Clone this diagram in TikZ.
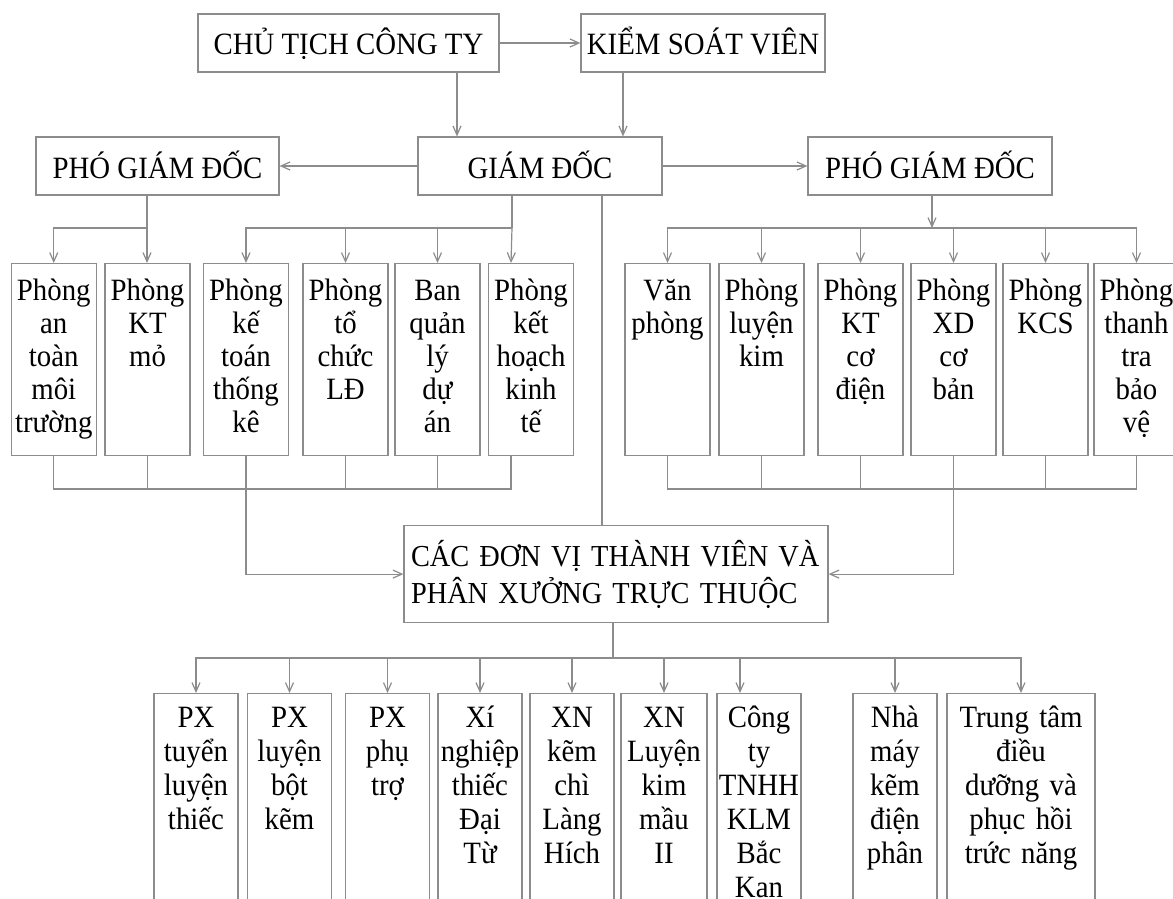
\documentclass[tikz,border=0pt]{standalone}
\usepackage{fontspec}
\setmainfont{Liberation Serif}[FakeStretch=0.93]
\usepackage{tikz}
\usetikzlibrary{arrows.meta}
\definecolor{orgline}{RGB}{140, 140, 140}
\newcommand{\headfont}{\fontsize{31}{33}\selectfont}
\newcommand{\unitfont}{\fontsize{31}{33}\selectfont}
\newcommand{\shopfont}{\fontsize{31}{34}\selectfont}
\newcommand{\groupfont}{\fontsize{30.5}{37}\selectfont}
\begin{document}
\begin{tikzpicture}[x=1pt, y=-1pt,
        head/.style={draw=orgline, line width=1.2pt, inner xsep=0pt, inner ysep=0pt, text height=41pt, text depth=17pt, font=\headfont},
        unit/.style={draw=orgline, line width=1.2pt, anchor=north, text width=85pt, align=center, inner xsep=0pt, inner ysep=0pt, text height=37pt, text depth=155pt, font=\unitfont},
        shop/.style={draw=orgline, line width=1.2pt, anchor=north, text width=84pt, align=center, inner xsep=0pt, inner ysep=0pt, text height=34pt, text depth=230pt, font=\shopfont},
        line/.style={draw=orgline, line width=1.2pt},
        arrow/.style={line, -{Straight Barb[length=9pt, width=8pt]}}
      ]
        \path[use as bounding box, clip] (0,0) rectangle (1173,899);
        \fill[white] (0,0) rectangle (1173,899);

        \node[head, minimum width=301pt] (chair) at (348.5, 43) {CHỦ TỊCH CÔNG TY};
        \node[head, minimum width=244pt] (ksv)   at (703, 43)   {KIỂM SOÁT VIÊN};
        \node[head, minimum width=244pt] (gd)    at (540, 166)  {GIÁM ĐỐC};
        \node[head, minimum width=243pt] (pgdl)  at (157.5, 166) {PHÓ GIÁM ĐỐC};
        \node[head, minimum width=244pt] (pgdr)  at (930, 166)  {PHÓ GIÁM ĐỐC};

        \node[unit] (a1) at (53.75, 263) {Phòng\\an\\toàn\\môi\\trường};
        \node[unit] (a2) at (147.5, 263) {Phòng\\KT\\mỏ};
        \node[unit] (a3) at (246, 263)   {Phòng\\kế\\toán\\thống\\kê};
        \node[unit] (a4) at (345.5, 263) {Phòng\\tổ\\chức\\LĐ};
        \node[unit] (a5) at (437.5, 263) {Ban\\quản\\lý\\dự\\án};
        \node[unit] (a6) at (531, 263)   {Phòng\\kết\\hoạch\\kinh\\tế};

        \node[unit] (b1) at (667.5, 263)  {Văn\\phòng};
        \node[unit] (b2) at (761.5, 263)  {Phòng\\luyện\\kim};
        \node[unit] (b3) at (860.5, 263)  {Phòng\\KT\\cơ\\điện};
        \node[unit] (b4) at (953.5, 263)  {Phòng\\XD\\cơ\\bản};
        \node[unit] (b5) at (1045.5, 263) {Phòng\\KCS};
        \node[unit] (b6) at (1136.5, 263) {Phòng\\thanh\\tra\\bảo\\vệ};

        \node[draw=orgline, line width=1.2pt, anchor=north, text width=418pt, align=left, inner xsep=3pt, inner ysep=0pt, text height=41pt, text depth=56pt, font=\groupfont] (cac) at (616, 525)
          {\hspace*{4pt}CÁC ĐƠN VỊ THÀNH VIÊN VÀ\\\hspace*{4pt}PHÂN XƯỞNG TRỰC THUỘC};

        \node[shop] (c1) at (196, 693)   {PX\\tuyển\\luyện\\thiếc};
        \node[shop] (c2) at (289.5, 693) {PX\\luyện\\bột\\kẽm};
        \node[shop] (c3) at (387.5, 693) {PX\\phụ\\trợ};
        \node[shop] (c4) at (480, 693)   {Xí\\nghiệp\\thiếc\\Đại\\Từ};
        \node[shop] (c5) at (572, 693)   {XN\\kẽm\\chì\\Làng\\Hích};
        \node[shop, text width=86pt] (c6) at (664, 693) {XN\\Luyện\\kim\\mầu\\II};
        \node[shop] (c7) at (759, 693)   {Công\\ty\\TNHH\\KLM\\Bắc\\Kan};
        \node[shop] (c8) at (895, 693)   {Nhà\\máy\\kẽm\\điện\\phân};
        \node[shop, text width=148pt] (c9) at (1021, 693) {Trung tâm\\điều\\dưỡng và\\phục hồi\\trức năng};

        \coordinate (jl) at (147, 228);
        \coordinate (jg) at (512, 228);
        \coordinate (jr) at (932, 228);
        \coordinate (ml) at (0, 489);
        \coordinate (jc) at (613, 658);
        \coordinate (a6t) at ([xshift=-20pt]a6.north);
        \coordinate (a6b) at ([xshift=-20pt]a6.south);
        \coordinate (c7t) at ([xshift=-19pt]c7.north);

        \draw[arrow] (chair.east) -- (ksv.west);
        \draw[arrow] ([xshift=108.5pt]chair.south) -- ([xshift=-83pt]gd.north);
        \draw[arrow] ([xshift=-80pt]ksv.south) -- ([xshift=83pt]gd.north);
        \draw[arrow] (gd.west) -- (pgdl.east);
        \draw[arrow] (gd.east) -- (pgdr.west);
        \draw[line] ([xshift=62pt]gd.south) -- ([xshift=-14pt]cac.north);

        \draw[arrow] (pgdl.south -| jl) -- (a2.north -| jl);
        \draw[arrow] (jl) -| (a1.north);

        \draw[line] (gd.south -| jg) -- (jg);
        \draw[arrow] (jg) -| (a3.north);
        \draw[arrow] (a4.north |- jg) -- (a4.north);
        \draw[arrow] (a5.north |- jg) -- (a5.north);
        \draw[arrow] (jg) -- (a6t);

        \draw[arrow] (pgdr.south -| jr) -- (jr);
        \draw[arrow] (jr) -| (b1.north);
        \draw[arrow] (jr) -| (b6.north);
        \draw[arrow] (b2.north |- jr) -- (b2.north);
        \draw[arrow] (b3.north |- jr) -- (b3.north);
        \draw[arrow] (b4.north |- jr) -- (b4.north);
        \draw[arrow] (b5.north |- jr) -- (b5.north);

        \draw[line] (a1.south) -- (a1.south |- ml) -- (a6b |- ml) -- (a6b);
        \draw[line] (a2.south) -- (a2.south |- ml);
        \draw[line] (a4.south) -- (a4.south |- ml);
        \draw[line] (a5.south) -- (a5.south |- ml);
        \draw[arrow] (a3.south) |- (cac.west);

        \draw[line] (b1.south) -- (b1.south |- ml) -- (b6.south |- ml) -- (b6.south);
        \draw[line] (b2.south) -- (b2.south |- ml);
        \draw[line] (b3.south) -- (b3.south |- ml);
        \draw[line] (b5.south) -- (b5.south |- ml);
        \draw[arrow] (b4.south) |- (cac.east);

        \draw[line] (cac.south -| jc) -- (jc);
        \draw[arrow] (jc) -| (c1.north);
        \draw[arrow] (jc) -| (c9.north);
        \draw[arrow] (c2.north |- jc) -- (c2.north);
        \draw[arrow] (c3.north |- jc) -- (c3.north);
        \draw[arrow] (c4.north |- jc) -- (c4.north);
        \draw[arrow] (c5.north |- jc) -- (c5.north);
        \draw[arrow] (c6.north |- jc) -- (c6.north);
        \draw[arrow] (c7t |- jc) -- (c7t);
        \draw[arrow] (c8.north |- jc) -- (c8.north);
      \end{tikzpicture}
\end{document}
